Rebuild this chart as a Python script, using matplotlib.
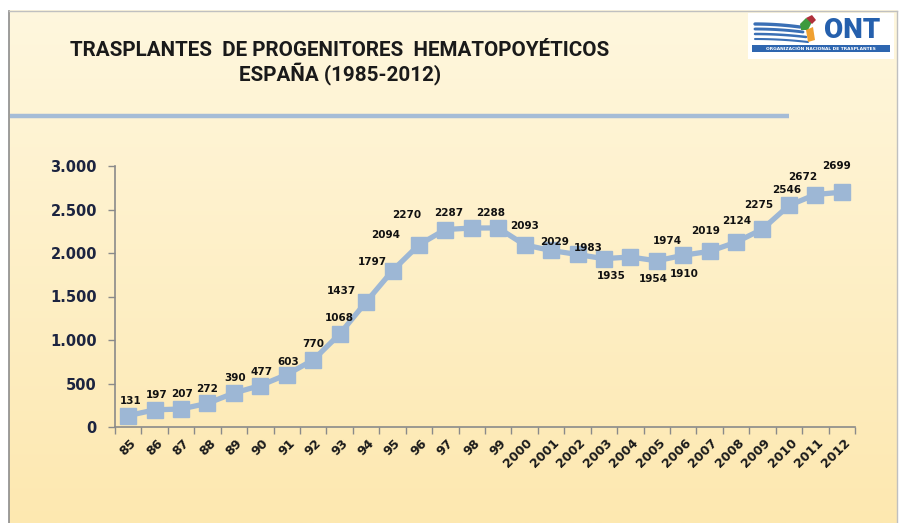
import matplotlib
matplotlib.use("Agg")
import matplotlib.pyplot as plt
import numpy as np
from matplotlib.patches import Rectangle, Polygon
import matplotlib.transforms as mtransforms

# ---- data ----
years = ["85", "86", "87", "88", "89", "90", "91", "92", "93", "94", "95", "96", "97", "98", "99",
         "2000", "2001", "2002", "2003", "2004", "2005", "2006", "2007", "2008", "2009", "2010",
         "2011", "2012"]
values = [131, 197, 207, 272, 390, 477, 603, 770, 1068, 1437, 1797, 2094, 2270, 2287, 2288,
          2093, 2029, 1983, 1935, 1954, 1910, 1974, 2019, 2124, 2275, 2546, 2672, 2699]
yticks = [0, 500, 1000, 1500, 2000, 2500, 3000]
ytick_labels = ["0", "500", "1.000", "1.500", "2.000", "2.500", "3.000"]
title1 = "TRASPLANTES  DE PROGENITORES  HEMATOPOYÉTICOS"
title2 = "ESPAÑA (1985-2012)"

# label offsets in pixels (dx, dy up) as placed in the original slide
label_dx = [2, 2, 1, 0, 1, 1, 1, 0, 0, -25, -20, -33, -39, -23, -8,
            0, 3, 11, 7, 23, 27, -16, -4, 1, -4, -2, -13, -5]
label_dy = [15, 15, 15, 14, 15, 14, 13, 16, 16, 11, 9, 10, 15, 15, 15,
            19, 8, 6, -17, -22, -13, 14, 20, 21, 24, 15, 18, 26]

W, H = 904, 523
DPI = 100
fig = plt.figure(figsize=(W / DPI, H / DPI), dpi=DPI)
fig.patch.set_facecolor("white")

def fx(px):
    return px / W

def fy(py):
    return 1 - py / H

# background slide with gradient
bg = fig.add_axes([0, 0, 1, 1])
bg.set_xlim(0, W)
bg.set_ylim(H, 0)
bg.axis("off")
top = np.array([255, 247, 222]) / 255
bot = np.array([253, 232, 176]) / 255
t = np.linspace(0, 1, 256)[:, None]
grad = top[None, :] * (1 - t) + bot[None, :] * t
grad = grad[:, None, :]
bg.imshow(grad, extent=[9.5, 897, H, 10.5], aspect="auto", zorder=0)
bg.plot([9.5, 9.5], [10.5, H], color="#8c8c8c", lw=1.2, zorder=2)
bg.plot([9.5, 897], [10.5, 10.5], color="#c0c0c0", lw=1.0, zorder=2)
bg.plot([897, 897], [10.5, H], color="#c0c0c0", lw=1.0, zorder=2)
# separator rule
bg.plot([10, 789], [115.5, 115.5], color="#a5bcd6", lw=3.2, solid_capstyle="butt", zorder=2)

# titles
tfam = ["Roboto", "DejaVu Sans"]
bg.text(340, 51, title1, ha="center", va="center", fontsize=14.9, fontweight="bold",
        family=tfam, color="#1a1a1a", zorder=3)
bg.text(340, 74, title2, ha="center", va="center", fontsize=14.9, fontweight="bold",
        family=tfam, color="#1a1a1a", zorder=3)

# logo
bg.add_patch(Rectangle((748, 13), 146, 46, facecolor="white", edgecolor="none", zorder=3))
for i, (y0, x1) in enumerate([(24, 800), (29, 803), (34, 806), (39, 808)]):
    xs = np.linspace(755, x1, 30)
    ys = y0 + 3 * ((xs - 755) / (x1 - 755)) ** 2
    bg.plot(xs, ys, color="#3a6fb5", lw=2.4 - 0.3 * i, solid_capstyle="round", zorder=4)
bg.add_patch(Polygon([[800, 24], [806, 18], [812, 22], [808, 30], [801, 30]],
                     closed=True, facecolor="#3d9a3d", edgecolor="none", zorder=4))
bg.add_patch(Polygon([[806, 18], [812, 15], [816, 20], [812, 24]],
                     closed=True, facecolor="#b0303a", edgecolor="none", zorder=4))
bg.add_patch(Polygon([[806, 30], [813, 27], [815, 40], [808, 42]],
                     closed=True, facecolor="#f0a030", edgecolor="none", zorder=4))
bg.text(852, 31, "ONT", ha="center", va="center", fontsize=20, fontweight="heavy",
        family=["Roboto", "DejaVu Sans"], color="#2560ad", zorder=5)
bg.add_patch(Rectangle((752, 45), 138, 7, facecolor="#2e66b0", edgecolor="none", zorder=4))
bg.text(821, 48.7, "ORGANIZACIÓN NACIONAL DE TRASPLANTES", ha="center", va="center",
        fontsize=3.2, fontweight="bold", color="white", zorder=5)

# main axes
L, R, T, B = 115, 855, 166, 427
ax = fig.add_axes([fx(L), fy(B), fx(R - L), (B - T) / H])
ax.patch.set_alpha(0)
x = np.arange(len(values))
ax.plot(x, values, color="#9db7d5", lw=3.8, marker="s", markersize=11.5,
        markerfacecolor="#9db7d5", markeredgecolor="#9db7d5", zorder=3, clip_on=False)
ax.set_xlim(-0.5, len(values) - 0.5)
ax.set_ylim(0, 3000)
for s in ["top", "right"]:
    ax.spines[s].set_visible(False)
for s in ["left", "bottom"]:
    ax.spines[s].set_color("#8a8a8a")
    ax.spines[s].set_linewidth(1.2)
ax.set_yticks(yticks)
ax.set_yticklabels(ytick_labels, fontsize=10.5, fontweight="bold", color="#1c2440")
ax.tick_params(axis="y", length=5, color="#8a8a8a", width=1.0, pad=8)
ax.set_xticks(np.arange(len(values) + 1) - 0.5)
ax.set_xticklabels([])
ax.tick_params(axis="x", length=5, color="#8a8a8a", width=1.0)

# rotated category labels
for i, lab in enumerate(years):
    tr = mtransforms.offset_copy(ax.transData, fig=fig, x=6, y=-14, units="dots")
    ax.text(i, 0, lab, rotation=45, rotation_mode="anchor", ha="right", va="center",
            fontsize=9, fontweight="bold", color="#1a1a1a", transform=tr, clip_on=False)

# data labels
for i, v in enumerate(values):
    tr = mtransforms.offset_copy(ax.transData, fig=fig, x=label_dx[i], y=label_dy[i], units="dots")
    ax.text(i, v, str(v), ha="center", va="center", fontsize=7.5, fontweight="bold",
            color="#111111", transform=tr, clip_on=False, zorder=4)

fig.savefig("out.png", dpi=DPI, facecolor=fig.get_facecolor())
